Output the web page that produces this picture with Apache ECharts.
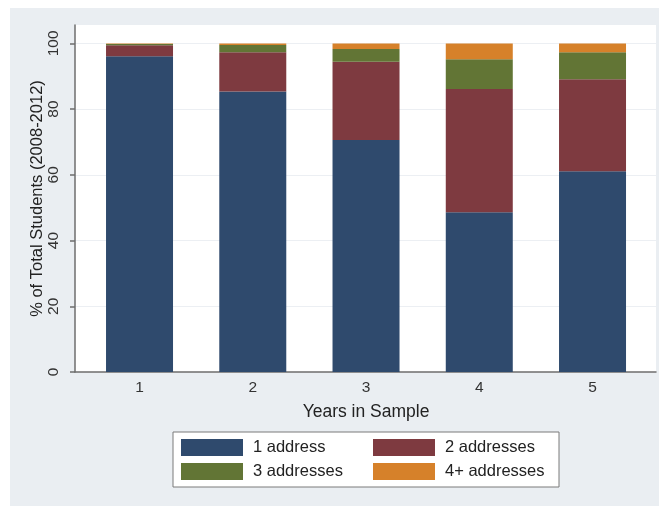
<!DOCTYPE html>
<html>
<head>
<meta charset="utf-8">
<script src="https://cdn.jsdelivr.net/npm/echarts@6/dist/echarts.min.js"></script>
<style>
  html, body { margin: 0; padding: 0; background: #ffffff; }
  #frame { position: relative; width: 659px; height: 506px; background: #ffffff; }
  #chart { position: absolute; left: 10px; top: 8px; width: 649px; height: 498px; background: #eaeef2; }
</style>
</head>
<body>
<div id="frame"><div id="chart"></div></div>
<script>
// Years each student appears in the sample
const years = ['1', '2', '3', '4', '5'];

// Share of students (%) by number of distinct addresses
const oneAddress = [96.1, 85.4, 70.6, 48.6, 61.1];
const twoAddresses = [3.3, 11.9, 23.8, 37.5, 28.0];
const threeAddresses = [0.4, 2.2, 3.9, 9.1, 8.2];
const fourPlusAddresses = [0.2, 0.5, 1.7, 4.8, 2.7];

const seriesNames = ['1 address', '2 addresses', '3 addresses', '4+ addresses'];
const seriesColors = ['#2f4a6d', '#7e3a40', '#627535', '#d6812a'];
const yTicks = [0, 20, 40, 60, 80, 100];

const chart = echarts.init(document.getElementById('chart'), null, { renderer: 'canvas' });

const font = '"Liberation Sans", Arial, sans-serif';
const axisGray = '#6e6e6e';
const yTop = 105.6;

const seriesData = [oneAddress, twoAddresses, threeAddresses, fourPlusAddresses];

chart.setOption({
  animation: false,
  backgroundColor: 'transparent',
  textStyle: { fontFamily: font },
  grid: [
    // plot region: white field, axis lines, gridlines
    { left: 65, top: 17, width: 581, height: 347, show: true, backgroundColor: '#ffffff', borderWidth: 0 },
    // bar region: five category bands inset from the plot edges
    { left: 72.9, top: 17, width: 566.25, height: 347 }
  ],
  xAxis: [
    {
      gridIndex: 0, type: 'value', min: 0, max: 1,
      axisLine: { show: true, onZero: false, lineStyle: { color: axisGray, width: 1.5 } },
      axisTick: { show: false }, axisLabel: { show: false }, splitLine: { show: false }
    },
    {
      gridIndex: 1, type: 'category', data: years,
      name: 'Years in Sample',
      nameLocation: 'middle',
      nameGap: 31,
      nameMoveOverlap: false,
      nameTextStyle: { fontSize: 17.5, color: '#222', fontFamily: font },
      axisLine: { show: false }, axisTick: { show: false }, splitLine: { show: false },
      axisLabel: { fontSize: 15.5, color: '#333', margin: 8, fontFamily: font }
    }
  ],
  yAxis: [
    {
      gridIndex: 0, type: 'value',
      min: 0, max: yTop, interval: 20,
      name: '% of Total Students (2008-2012)',
      nameLocation: 'middle',
      nameGap: 29,
      nameRotate: 90,
      nameMoveOverlap: false,
      nameTextStyle: { fontSize: 16.5, color: '#222', fontFamily: font },
      axisLine: { show: true, onZero: false, lineStyle: { color: axisGray, width: 1.5 } },
      axisTick: { show: true, customValues: yTicks, length: 5, lineStyle: { color: axisGray, width: 1.5 } },
      splitLine: { show: true, customValues: yTicks, lineStyle: { color: '#eceff3', width: 1 } },
      axisLabel: {
        customValues: yTicks,
        rotate: 90,
        fontSize: 15.5, color: '#333', margin: 13, fontFamily: font
      }
    },
    {
      gridIndex: 1, type: 'value', min: 0, max: yTop,
      axisLine: { show: false }, axisTick: { show: false }, axisLabel: { show: false }, splitLine: { show: false }
    }
  ],
  legend: {
    left: 163, top: 424,
    width: 380,
    orient: 'horizontal',
    icon: 'rect',
    itemWidth: 62, itemHeight: 17,
    itemGap: 7,
    padding: [7, 1, 7, 8],
    backgroundColor: '#ffffff',
    borderColor: '#7a7a7a', borderWidth: 1, borderRadius: 0,
    textStyle: { fontSize: 16.5, color: '#222', width: 113, padding: [0, 0, 0, 5], lineHeight: 17, fontFamily: font },
    itemStyle: { borderWidth: 0 },
    data: seriesNames
  },
  series: seriesNames.map((name, k) => ({
    name: name,
    type: 'bar',
    stack: 'total',
    xAxisIndex: 1,
    yAxisIndex: 1,
    barWidth: 67,
    itemStyle: { color: seriesColors[k] },
    data: seriesData[k]
  }))
});
</script>
</body>
</html>
